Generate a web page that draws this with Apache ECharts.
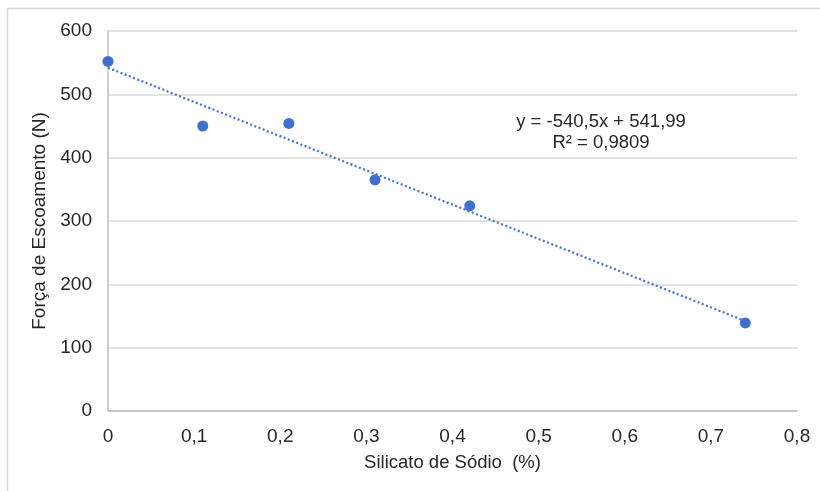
<!DOCTYPE html>
<html>
<head>
<meta charset="utf-8">
<script src="https://cdn.jsdelivr.net/npm/echarts@6/dist/echarts.min.js"></script>
<style>
  html, body { margin: 0; padding: 0; background: #fff; }
  #chart { width: 820px; height: 491px; }
</style>
</head>
<body>
<div id="chart"></div>
<script>
// dados
const silicato = [0, 0.11, 0.21, 0.31, 0.42, 0.74]
const forca = [552, 450, 454, 365, 324, 139]
// linha de tendência (pontos extremos)
const trendX = [0, 0.74]
const trendY = [542, 142]
const equacao = ['y = -540,5x + 541,99', 'R² = 0,9809']

const chart = echarts.init(document.getElementById('chart'))
const fmt = (v) => String(Math.round(v * 10) / 10).replace('.', ',')
const fonte = 'Liberation Sans, Arial, sans-serif'

const option = {
  animation: false,
  textStyle: { fontFamily: fonte },
  grid: { left: 108, right: 23, top: 31, bottom: 80 },
  graphic: [
    {
      type: 'rect',
      shape: { x: 7.5, y: 8.5, width: 900, height: 600 },
      style: { fill: 'none', stroke: '#d9d9d9', lineWidth: 1.5 },
      z: -1,
    },
    {
      type: 'text',
      x: 601,
      y: 111,
      style: {
        text: equacao.join('\n'),
        align: 'center',
        verticalAlign: 'top',
        fontSize: 18.5,
        lineHeight: 21,
        fill: '#262626',
        fontFamily: fonte,
      },
    },
  ],
  xAxis: {
    type: 'value',
    min: 0,
    max: 0.8,
    interval: 0.1,
    name: 'Silicato de Sódio  (%)',
    nameLocation: 'middle',
    nameGap: 42,
    nameTextStyle: { fontSize: 18.5, color: '#262626' },
    axisLine: { show: true, lineStyle: { color: '#bfbfbf', width: 1.5 } },
    axisTick: { show: false },
    splitLine: { show: false },
    axisLabel: { fontSize: 19, color: '#262626', margin: 16, formatter: fmt },
  },
  yAxis: {
    type: 'value',
    min: 0,
    max: 600,
    interval: 100,
    name: 'Força de Escoamento (N)',
    nameLocation: 'middle',
    nameGap: 58,
    nameTextStyle: { fontSize: 19, color: '#262626' },
    axisLine: { show: true, lineStyle: { color: '#bfbfbf', width: 1.5 } },
    axisTick: { show: false },
    splitLine: { show: true, lineStyle: { color: '#d9d9d9', width: 1.5 } },
    axisLabel: { fontSize: 19, color: '#262626', margin: 16 },
  },
  series: [
    {
      name: 'tendência',
      type: 'line',
      data: trendX.map((x, i) => [x, trendY[i]]),
      symbol: 'none',
      lineStyle: { color: '#4472c4', width: 2.2, type: [2, 2.5] },
      z: 1,
    },
    {
      name: 'Força',
      type: 'scatter',
      data: silicato.map((x, i) => [x, forca[i]]),
      symbolSize: 11,
      itemStyle: { color: '#3f6fcf', opacity: 1 },
      z: 2,
    },
  ],
}
chart.setOption(option)
window.addEventListener('resize', function () {
  chart.resize()
})
</script>
</body>
</html>
